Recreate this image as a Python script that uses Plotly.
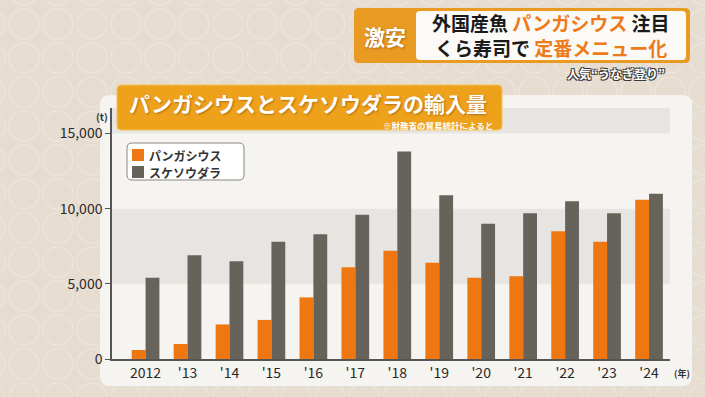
import plotly.graph_objects as go

years = ["2012", "'13", "'14", "'15", "'16", "'17", "'18", "'19", "'20", "'21", "'22", "'23", "'24"]
pangasius = [600, 1000, 2300, 2600, 4100, 6100, 7200, 6400, 5400, 5500, 8500, 7800, 10600]
pollock = [5400, 6900, 6500, 7800, 8300, 9600, 13800, 10900, 9000, 9700, 10500, 9700, 11000]
y_ticks = [0, 5000, 10000, 15000]
y_tick_labels = ["0", "5,000", "10,000", "15,000"]

W, H = 705, 397
L, R, T, B = 112, 35, 108, 38
PW, PH = W - L - R, H - T - B

def px(x):
    return (x - L) / PW

def py(y):
    return (H - B - y) / PH

def rrect(x0, y0, x1, y1, r):
    X0, X1 = px(x0), px(x1)
    Y0, Y1 = py(y0), py(y1)
    rx, ry = r / PW, r / PH
    return (f"M {X0+rx},{Y0} L {X1-rx},{Y0} Q {X1},{Y0} {X1},{Y0-ry} "
            f"L {X1},{Y1+ry} Q {X1},{Y1} {X1-rx},{Y1} L {X0+rx},{Y1} "
            f"Q {X0},{Y1} {X0},{Y1+ry} L {X0},{Y0-ry} Q {X0},{Y0} {X0+rx},{Y0} Z")

FONT = "Noto Sans CJK JP"
ORANGE = "#ee7712"
GRAY = "#67635b"

xs = list(range(len(years)))
fig = go.Figure()
fig.add_trace(go.Bar(x=xs, y=pangasius, name="パンガシウス", marker_color=ORANGE, marker_line_width=0))
fig.add_trace(go.Bar(x=xs, y=pollock, name="スケソウダラ", marker_color=GRAY, marker_line_width=0))

shapes = []
for cy in range(-10, H + 40, 34):
    for cx in range(-10, W + 40, 34):
        shapes.append(dict(type="circle", xref="paper", yref="paper",
                           x0=px(cx - 15), x1=px(cx + 15), y0=py(cy + 15), y1=py(cy - 15),
                           line=dict(color="rgba(255,255,255,0.22)", width=1.5), layer="below"))
shapes.append(dict(type="path", xref="paper", yref="paper", path=rrect(100, 95, 692, 386, 10),
                   fillcolor="#f6f4f0", line=dict(width=0), layer="below"))
shapes.append(dict(type="rect", xref="paper", yref="y", x0=0, x1=1, y0=5000, y1=10000,
                   fillcolor="#e7e5e1", line=dict(width=0), layer="below"))
shapes.append(dict(type="rect", xref="paper", yref="y", x0=0, x1=1, y0=15000, y1=16700,
                   fillcolor="#e7e5e1", line=dict(width=0), layer="below"))
shapes.append(dict(type="path", xref="paper", yref="paper", path=rrect(117, 85, 502, 130, 4),
                   fillcolor="#eea21c", line=dict(color="#f3c15a", width=1), layer="above"))
shapes.append(dict(type="path", xref="paper", yref="paper", path=rrect(354, 8, 690, 63, 5),
                   fillcolor="#e89a22", line=dict(width=0), layer="above"))
shapes.append(dict(type="path", xref="paper", yref="paper", path=rrect(416, 11, 686, 60, 4),
                   fillcolor="#fbfaf7", line=dict(width=0), layer="above"))
shapes.append(dict(type="path", xref="paper", yref="paper", path=rrect(127, 143, 244, 180, 5),
                   fillcolor="#ffffff", line=dict(color="#8a8580", width=1), layer="above"))
shapes.append(dict(type="rect", xref="paper", yref="paper", x0=px(132), x1=px(144), y0=py(161), y1=py(149),
                   fillcolor=ORANGE, line=dict(width=0), layer="above"))
shapes.append(dict(type="rect", xref="paper", yref="paper", x0=px(132), x1=px(144), y0=py(178), y1=py(166),
                   fillcolor=GRAY, line=dict(width=0), layer="above"))

def ann(text, x, y, size, color, xanchor="center", shadow=None):
    f = dict(family=FONT, size=size, color=color)
    if shadow:
        f["shadow"] = shadow
    return dict(text=text, x=px(x), y=py(y), xref="paper", yref="paper", xanchor=xanchor,
                yanchor="middle", showarrow=False, font=f)

OUTLINE = "1px 1px 0 #3a3a3a, -1px -1px 0 #3a3a3a, 1px -1px 0 #3a3a3a, -1px 1px 0 #3a3a3a"
annotations = [
    ann("<b>パンガシウスとスケソウダラの輸入量</b>", 127, 103, 21, "white", "left",
        shadow="1px 1px 2px rgba(120,60,0,0.5)"),
    ann("<b>※財務省の貿易統計によると</b>", 495, 125, 8.5, "white", "right"),
    ann("<b>激安</b>", 385, 36, 21, "white", shadow="1px 1px 2px rgba(120,60,0,0.5)"),
    ann("<b>外国産魚 <span style='color:#ee7a1a'>パンガシウス</span> 注目</b>", 551, 22, 19, "#1a1a1a"),
    ann("<b>くら寿司で <span style='color:#ee7a1a'>定番メニュー化</span></b>", 551, 47, 19, "#1a1a1a"),
    ann("<b>人気“うなぎ登り”</b>", 667, 74, 12, "white", "right", shadow=OUTLINE),
    ann("<b>パンガシウス</b>", 147, 155, 12, "#333333", "left"),
    ann("<b>スケソウダラ</b>", 147, 172, 12, "#333333", "left"),
    ann("<b>(t)</b>", 102, 116, 10, "#333333"),
    ann("<b>(年)</b>", 682, 373, 9, "#333333"),
]

fig.update_layout(
    width=W, height=H,
    margin=dict(l=L, r=R, t=T, b=B),
    paper_bgcolor="#e6ddd0",
    plot_bgcolor="rgba(0,0,0,0)",
    barmode="group", bargap=0.34, bargroupgap=0,
    showlegend=False,
    shapes=shapes, annotations=annotations,
    font=dict(family=FONT, color="#2a2a2a"),
)
fig.update_xaxes(range=[-0.8, 12.5], tickmode="array", tickvals=xs, ticktext=years,
                 showline=True, linecolor="#555555", linewidth=1.5, showgrid=False, zeroline=False,
                 ticks="", tickfont=dict(family=FONT, size=14, color="#2a2a2a"))
fig.update_yaxes(range=[0, 16700], tickmode="array", tickvals=y_ticks, ticktext=y_tick_labels,
                 showline=True, linecolor="#555555", linewidth=1.5, showgrid=False, zeroline=False,
                 ticks="outside", ticklen=5, tickcolor="#555555",
                 tickfont=dict(family=FONT, size=14, color="#2a2a2a"))

fig.write_html("out.html", config={"displayModeBar": False},
               post_script="document.body.style.margin='0';document.body.style.overflow='hidden';")
